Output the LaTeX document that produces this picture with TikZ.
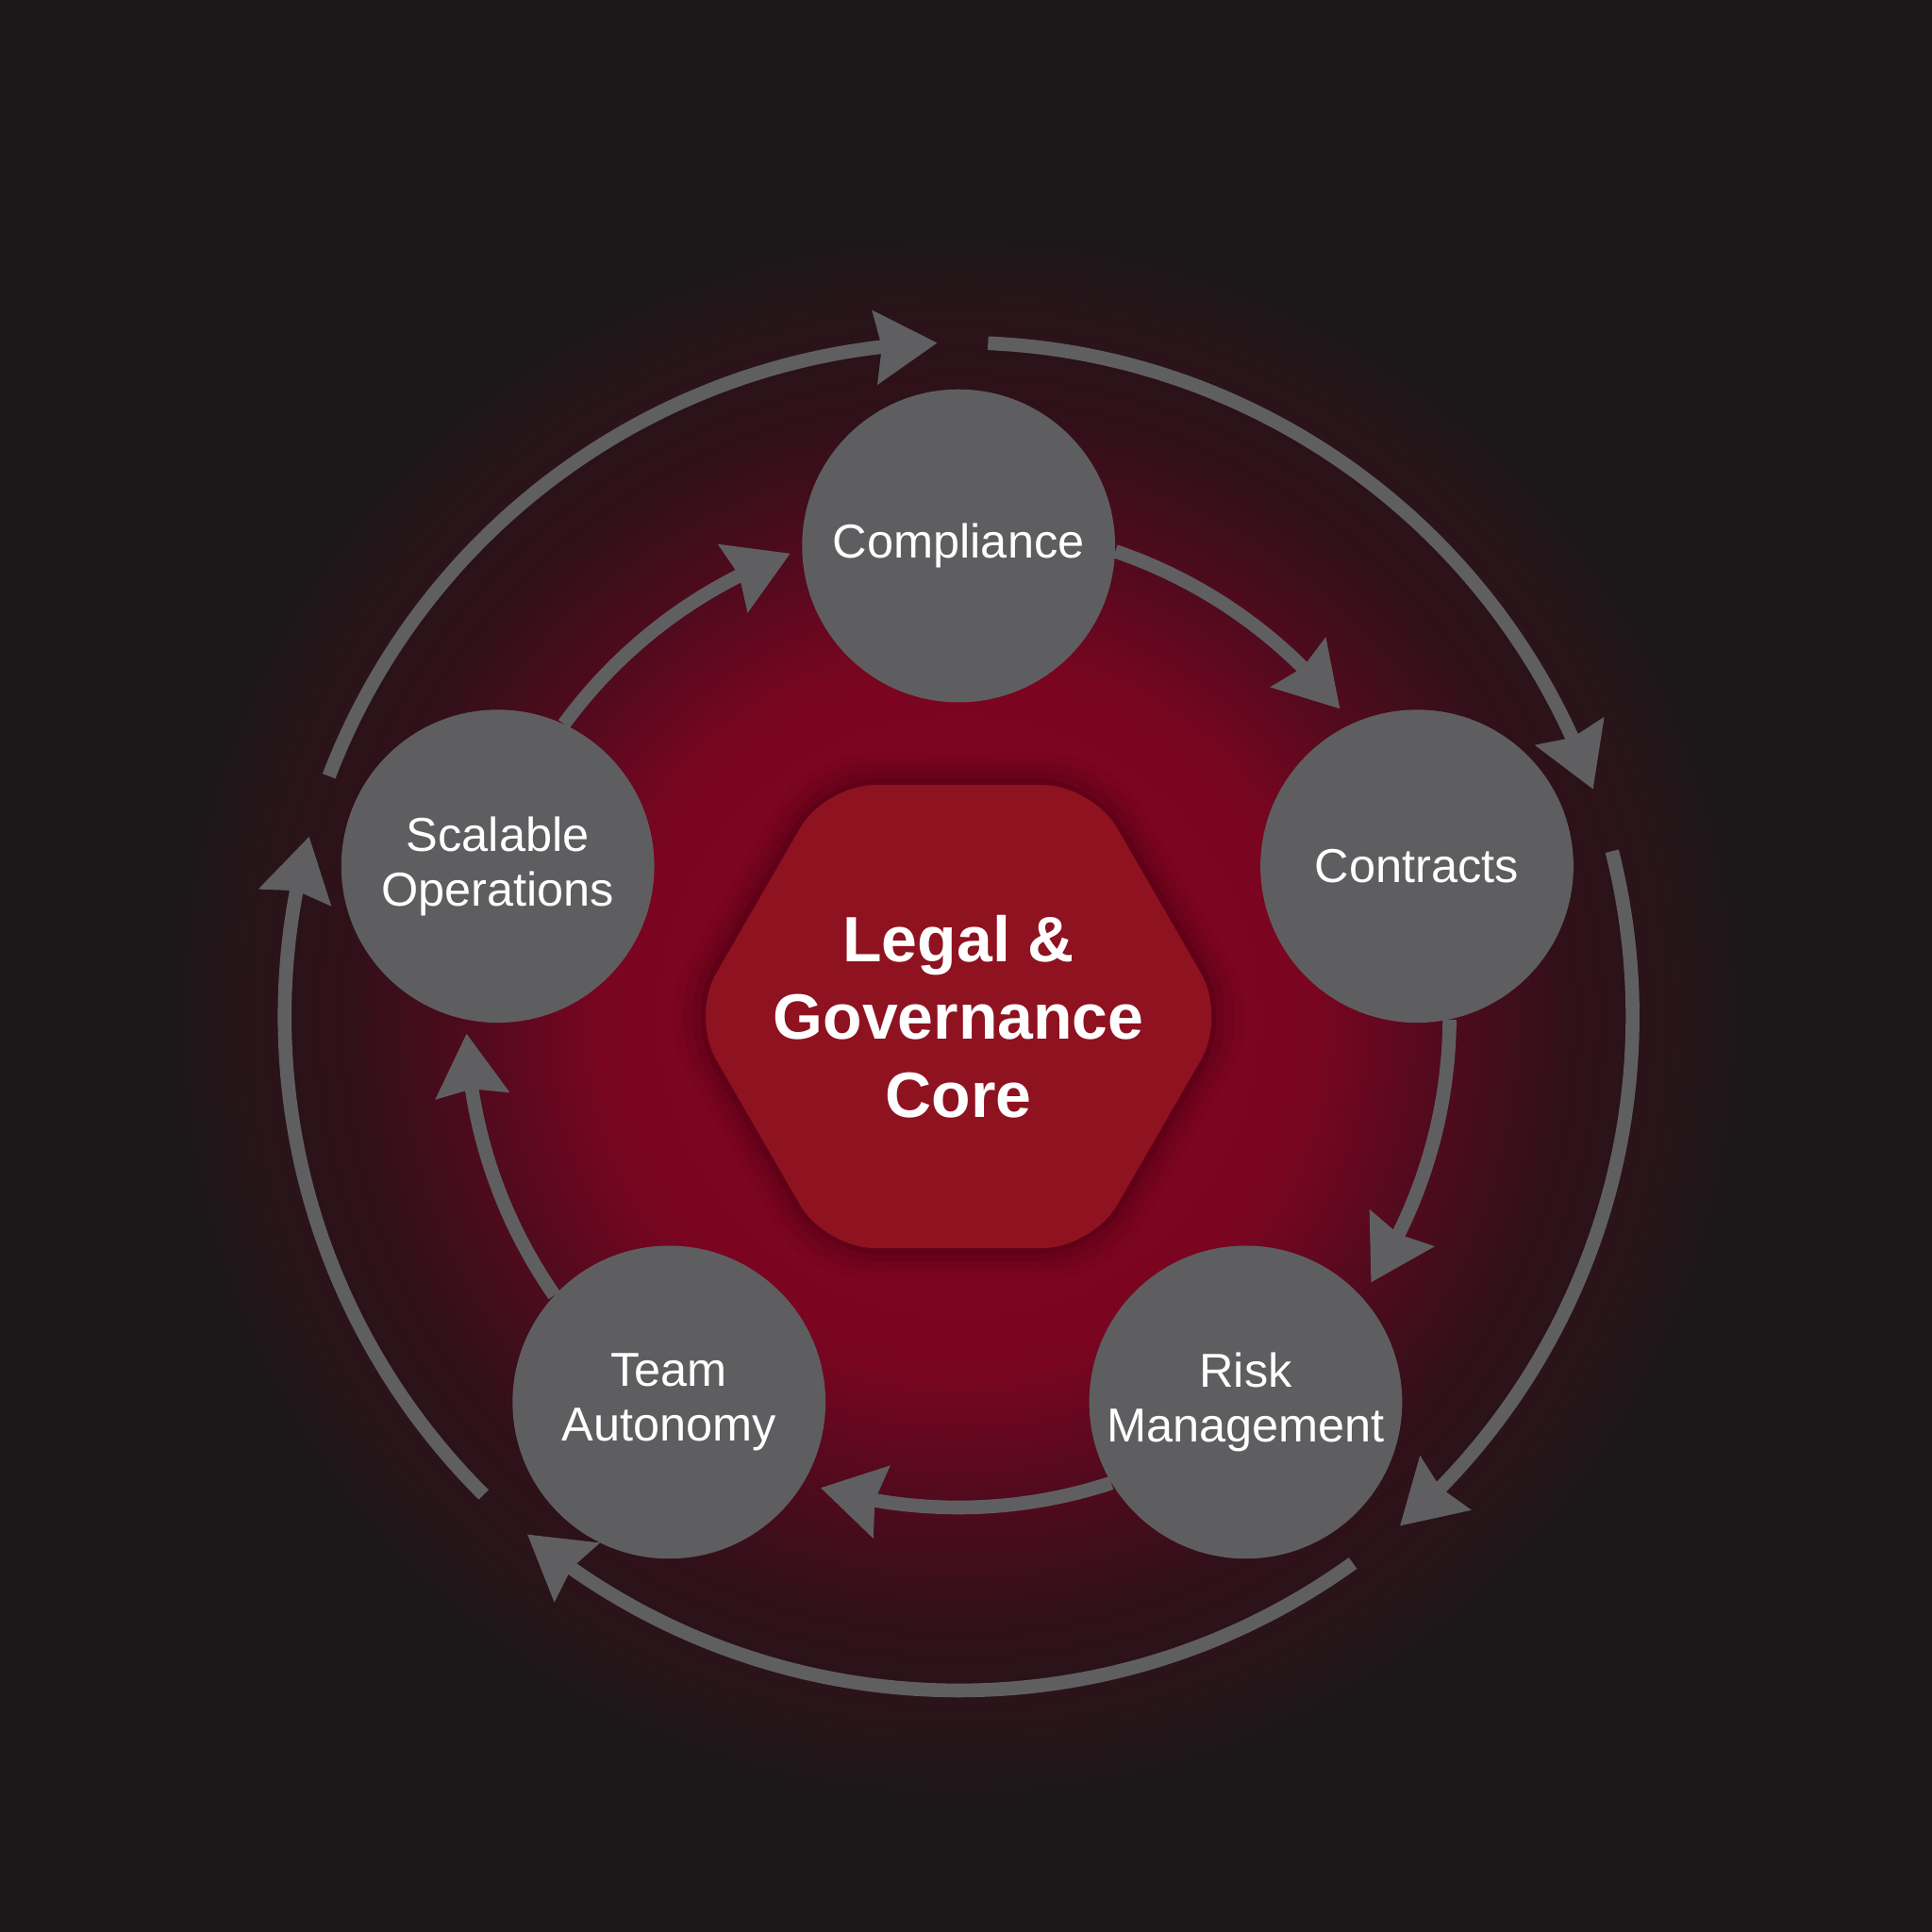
\documentclass[tikz,border=0pt]{standalone}
\usepackage{fontspec}
\setmainfont{Liberation Sans}
\usepackage{tikz}
\usetikzlibrary{positioning, calc, arrows.meta, bending}
\usepackage{xcolor}
\definecolor{bgdark}{HTML}{1A1819}
\definecolor{topicgray}{HTML}{5E5E60}
\definecolor{corered}{HTML}{8E1220}
\definecolor{linkgray}{HTML}{5F5F61}
\definecolor{glowA}{HTML}{84061F}
\definecolor{glowB}{HTML}{7A0520}
\definecolor{glowC}{HTML}{520A1E}
\definecolor{glowD}{HTML}{301019}
\definecolor{glowE}{HTML}{281419}
\definecolor{glowF}{HTML}{1E1719}
\pgfdeclareradialshading{redglow}{\pgfpoint{0bp}{0bp}}{color(0bp)=(glowA); color(11bp)=(glowB); color(15bp)=(glowC); color(19bp)=(glowD); color(22bp)=(glowE); color(24.2bp)=(glowF); color(25bp)=(bgdark); color(50bp)=(bgdark)}

\begin{document}
\begin{tikzpicture}[x=0.25mm, y=0.25mm]
\tikzset{Topic/.style={shape=circle, fill=topicgray, minimum size=63.5mm, inner sep=0pt, align=center, text=white, font=\fontsize{27.5}{31.5}\selectfont}}
\tikzset{CoreText/.style={align=center, text=white, font=\bfseries\fontsize{37}{44.8}\selectfont}}
\tikzset{Link/.style={draw=linkgray, line width=2.8mm, -{Stealth[length=12.5mm, width=14.5mm, inset=1.2mm]}}}
\tikzset{Ring/.style={Link}}

% background
\useasboundingbox (-778,-743) rectangle (790,825);
\fill[bgdark] (-778,-743) rectangle (790,825);
\shade[shading=redglow] (0,0) circle[radius=650];

% core hexagon
\foreach \r/\op in {246/0.03, 238/0.05, 230/0.07, 223/0.08}
  \fill[black, opacity=\op, rounded corners=12mm] (0:\r) -- (60:\r) -- (120:\r) -- (180:\r) -- (240:\r) -- (300:\r) -- cycle;
\fill[corered, rounded corners=10mm] (0:217) -- (60:217) -- (120:217) -- (180:217) -- (240:217) -- (300:217) -- cycle;
\node[CoreText] (core) at (0,0) {Legal \&\\Governance\\Core};

% nodes
\node[Topic] (comp) at (0,382) {Compliance};
\node[Topic] (cont) at (372,122) {Contracts};
\node[Topic] (risk) at (233,-313) {Risk\\Management};
\node[Topic] (team) at (-235,-313) {Team\\Autonomy};
\node[Topic] (scal) at (-374,122) {Scalable\\Operations};

% inner arrows
\draw[Link] (comp.-2) arc[start angle=71.2, end angle=38.7, radius=398];
\draw[Link] (cont.-78) arc[start angle=-0.4, end angle=-32.9, radius=398];
\draw[Link] (risk.-149) arc[start angle=-71.8, end angle=-106.3, radius=398];
\draw[Link] (team.137) arc[start angle=-145.1, end angle=-177.8, radius=398];
\draw[Link] (scal.65) arc[start angle=143.8, end angle=110.2, radius=398];

% outer ring
\coordinate (r1) at (87.5:547);
\coordinate (r2) at (14.2:547);
\coordinate (r3) at (-54.2:547);
\coordinate (r4) at (-134.8:547);
\coordinate (r5) at (159.1:547);
\draw[Ring] (r1) arc[start angle=87.5, end angle=19.7, radius=547];
\draw[Ring] (r2) arc[start angle=14.2, end angle=-49.1, radius=547];
\draw[Ring] (r3) arc[start angle=-54.2, end angle=-129.8, radius=547];
\draw[Ring] (r4) arc[start angle=-134.8, end angle=-195.5, radius=547];
\draw[Ring] (r5) arc[start angle=159.1, end angle=91.8, radius=547];
\end{tikzpicture}
\end{document}
